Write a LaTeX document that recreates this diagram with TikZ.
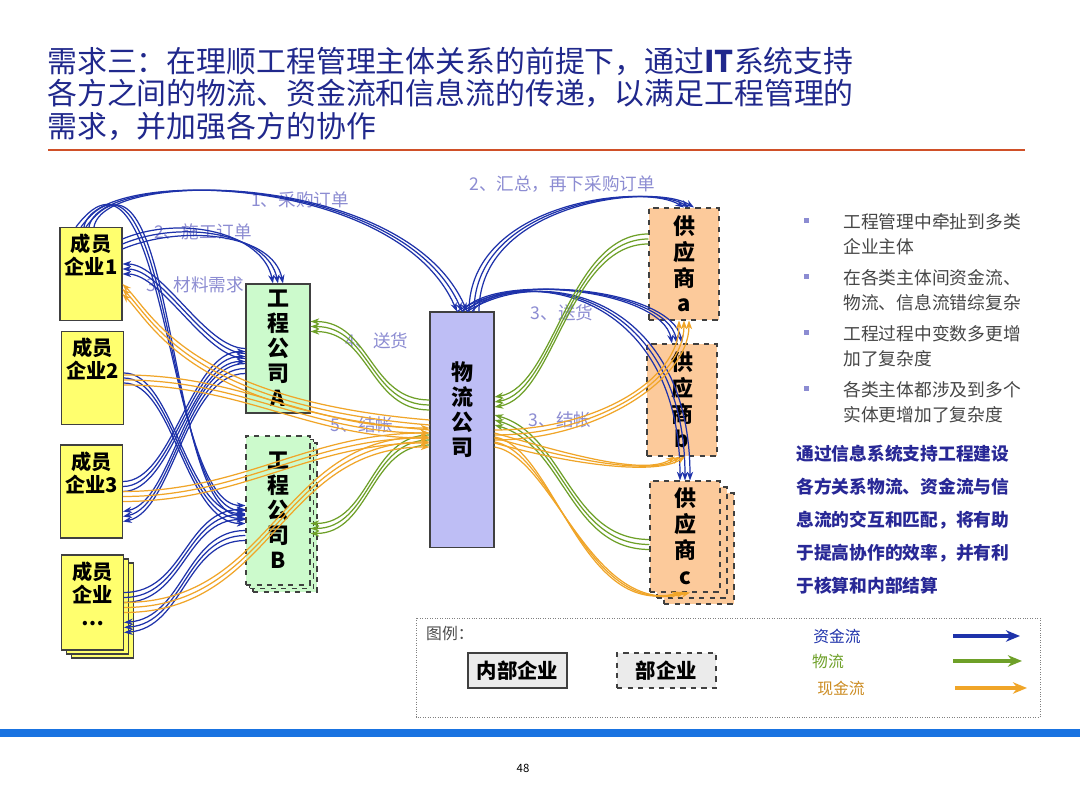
\documentclass[tikz,border=0pt]{standalone}
\usepackage{fontspec}
\setmainfont{Noto Sans CJK SC}
\usetikzlibrary{arrows.meta,shadows,positioning,calc}

\definecolor{titleblue}{RGB}{32,40,140}
\definecolor{rulered}{RGB}{208,80,40}
\definecolor{barblue}{RGB}{25,115,225}
\definecolor{memyellow}{RGB}{255,255,110}
\definecolor{engreen}{RGB}{204,250,204}
\definecolor{loglav}{RGB}{190,190,245}
\definecolor{suppeach}{RGB}{252,202,155}
\definecolor{moneyblue}{RGB}{30,50,170}
\definecolor{goodsgreen}{RGB}{110,160,40}
\definecolor{cashorange}{RGB}{240,165,40}
\definecolor{flowlabel}{RGB}{140,140,210}
\definecolor{notegray}{RGB}{70,70,70}
\definecolor{noteblue}{RGB}{40,40,150}

\tikzset{box/.style={draw=black!75, line width=0.6pt, inner sep=1pt}}
\tikzset{member/.style={box, fill=memyellow, minimum width=1.24cm, minimum height=1.86cm}}
\tikzset{memtxt/.style={align=center, anchor=north, inner sep=4pt, font=\bfseries\fontsize{11.5}{13}\selectfont}}
\tikzset{engco/.style={box, fill=engreen, minimum width=1.28cm, align=center, font=\bfseries\fontsize{12.5}{14.2}\selectfont}}
\tikzset{logco/.style={box, fill=loglav, minimum width=1.28cm, minimum height=4.72cm, align=center, font=\bfseries\fontsize{12.5}{14.2}\selectfont}}
\tikzset{supp/.style={box, dashed, fill=suppeach, minimum width=1.4cm, minimum height=2.24cm, align=center, font=\bfseries\fontsize{12.5}{14.7}\selectfont}}
\tikzset{money/.style={->, draw=moneyblue, line width=0.7pt}}
\tikzset{goods/.style={->, draw=goodsgreen, line width=0.7pt}}
\tikzset{cash/.style={->, draw=cashorange, line width=0.7pt}}
\tikzset{flowtxt/.style={text=flowlabel, font=\fontsize{10}{12}\selectfont}}
\tikzset{keyarrow/.style={line width=2.2pt, -{Stealth[length=8pt,width=6.5pt]}}}

\begin{document}
\begin{tikzpicture}[x=0.02cm, y=-0.02cm, >={Stealth[length=5pt,width=3.6pt]}]
\useasboundingbox (0,0) rectangle (1080,810);
\fill[white] (0,0) rectangle (1080,810);

% title and rules
\node[anchor=north west, inner sep=0, align=left, text=titleblue, font=\fontsize{17}{18.4}\selectfont] (title) at (47,47)
  {需求三：在理顺工程管理主体关系的前提下，通过{\bfseries IT}系统支持\\各方之间的物流、资金流和信息流的传递，以满足工程管理的\\需求，并加强各方的协作};
\draw[rulered, line width=1.7pt] (48,150) -- (1025,150);
\fill[barblue] (0,729) rectangle (1080,737);
\node[font=\fontsize{6.5}{8}\selectfont] (pagenum) at (523,768) {48};

% member companies
\node[member, label={[memtxt]north:{成员\\企业1}}] (m1) at (91,274) {};
\node[member, label={[memtxt]north:{成员\\企业2}}] (m2) at (92.5,378) {};
\node[member, label={[memtxt]north:{成员\\企业3}}] (m3) at (91.5,491.5) {};
\node[member, minimum height=1.9cm, double copy shadow={shadow xshift=0.1cm, shadow yshift=-0.08cm},
  label={[memtxt]north:{成员\\企业\\…}}] (m4) at (92.5,602.5) {};

% engineering companies
\node[engco, minimum height=2.58cm] (gA) at (278,348.5) {工\\程\\公\\司\\A};
\node[engco, dashed, minimum height=2.98cm, double copy shadow={shadow xshift=0.07cm, shadow yshift=-0.07cm}] (gB) at (278,510.5) {工\\程\\公\\司\\B};

% logistics company
\node[logco] (wl) at (462,430) {物\\流\\公\\司\\[10pt]};

% suppliers
\node[supp] (sa) at (684,264) {供\\应\\商\\a};
\node[supp] (sb) at (682,400) {供\\应\\商\\b};
\node[supp, minimum height=2.22cm, double copy shadow={shadow xshift=0.14cm, shadow yshift=-0.12cm}] (sc) at (685,536.5) {供\\应\\商\\c};

% flow labels
\node[flowtxt] (l1) at (300,200) {1、采购订单};
\node[flowtxt] (l2) at (203,232) {2、施工订单};
\node[flowtxt] (l3) at (195,285) {3、材料需求};
\node[flowtxt] (l4) at (562,184) {2、汇总，再下采购订单};
\node[flowtxt] (l5) at (377,341) {4、送货};
\node[flowtxt] (l6) at (562,313) {3、送货};
\node[flowtxt] (l7) at (362,425) {5、结帐};
\node[flowtxt] (l8) at (560,420) {3、结帐};

% blue flows
\foreach \o in {-5,0,5} {
  \draw[money] ([shift={(-2+\o,0)}]m1.north) .. controls +(10,-60) and +(-60,-140) .. ([shift={(\o,0)}]wl.north);
  \draw[money] ([shift={(0,-30+\o)}]m1.east) .. controls +(60,-25) and +(-10,-50) .. ([shift={(\o,0)}]gA.north);
  \draw[money] ([shift={(0,5+\o)}]gA.west) .. controls +(-40,0) and +(40,0) .. ([shift={(0,-5+\o)}]m1.east);
  \draw[money] ([shift={(-10+\o,0)}]m1.north) .. controls +(90,-120) and +(-80,0) .. ([shift={(0,\o)}]gB.west);
  \draw[money] ([shift={(0,\o)}]m2.east) .. controls +(50,0) and +(-60,0) .. ([shift={(0,8+\o)}]gB.west);
  \draw[money] ([shift={(0,20+\o)}]gA.west) .. controls +(-60,0) and +(50,-10) .. ([shift={(0,25+\o)}]m3.east);
  \draw[money] ([shift={(0,-5+\o)}]m3.east) .. controls +(50,0) and +(-55,0) .. ([shift={(0,8+\o)}]gA.west);
  \draw[money] ([shift={(0,-5+\o)}]m4.east) .. controls +(60,0) and +(-60,0) .. ([shift={(0,4+\o)}]gB.west);
  \draw[money] ([shift={(0,25+\o)}]gB.west) .. controls +(-60,0) and +(60,-5) .. ([shift={(0,25+\o)}]m4.east);
  \draw[money] ([shift={(12+\o,0)}]wl.north) .. controls +(0,-110) and +(-40,-25) .. ([shift={(5+\o,0)}]sa.north);
  \draw[money] ([shift={(5+\o,0)}]wl.north) .. controls +(30,-40) and +(-10,-55) .. ([shift={(-5+\o,0)}]sb.north);
  \draw[money] ([shift={(\o,0)}]wl.north) .. controls +(80,-50) and +(0,-180) .. ([shift={(\o,0)}]sc.north);
}

% green flows
\foreach \o in {-5,0,5} {
  \draw[goods] ([shift={(0,-25+\o)}]sa.west) .. controls +(-80,0) and +(60,-10) .. ([shift={(0,-28+\o)}]wl.east);
  \draw[goods] ([shift={(0,8+\o)}]sc.west) .. controls +(-80,0) and +(70,20) .. ([shift={(0,-10+\o)}]wl.east);
  \draw[goods] ([shift={(0,-25+\o)}]wl.west) .. controls +(-60,0) and +(60,0) .. ([shift={(0,-22+\o)}]gA.east);
  \draw[goods] ([shift={(0,10+\o)}]wl.west) .. controls +(-60,0) and +(60,0) .. ([shift={(0,18+\o)}]gB.east);
}

% orange flows
\foreach \o in {-5,0,5} {
  \draw[cash] ([shift={(0,-5+\o)}]wl.west) .. controls +(-240,-20) and +(30,30) .. ([shift={(0,15+\o)}]m1.east);
  \draw[cash] ([shift={(0,2+\o)}]m2.east) .. controls +(120,0) and +(-120,0) .. ([shift={(0,3+\o)}]wl.west);
  \draw[cash] ([shift={(0,5+\o)}]m3.east) .. controls +(120,0) and +(-120,0) .. ([shift={(0,8+\o)}]wl.west);
  \draw[cash] ([shift={(0,5+\o)}]m4.east) .. controls +(150,0) and +(-150,0) .. ([shift={(0,12+\o)}]wl.west);
  \draw[cash] ([shift={(0,5+\o)}]wl.east) .. controls +(100,0) and +(0,60) .. ([shift={(\o,0)}]sa.south);
  \draw[cash] ([shift={(0,8+\o)}]wl.east) .. controls +(70,20) and +(-30,20) .. ([shift={(-2+\o,0)}]sb.south);
  \draw[cash] ([shift={(0,12+\o)}]wl.east) .. controls +(60,10) and +(-100,25) .. ([shift={(\o,0)}]sc.south);
}

% notes on the right
\foreach \txt [count=\i] in {{工程管理中牵扯到多类\\企业主体}, {在各类主体间资金流、\\物流、信息流错综复杂}, {工程过程中变数多更增\\加了复杂度}, {各类主体都涉及到多个\\实体更增加了复杂度}} {
  \fill[flowlabel] (806,221+56*\i-56) ++(-2.5,-2.5) rectangle ++(5,5);
  \node[anchor=north west, inner sep=0, align=left, text=notegray, font=\fontsize{10.1}{14.2}\selectfont] (note\i) at (843,213+56*\i-56) {\txt};
}
\node[anchor=north west, inner sep=0, align=left, text=noteblue, font=\bfseries\fontsize{10.1}{18.7}\selectfont] (summary) at (796,445)
  {通过信息系统支持工程建设\\各方关系物流、资金流与信\\息流的交互和匹配，将有助\\于提高协作的效率，并有利\\于核算和内部结算};

% legend
\draw[black!50, densely dotted] (416,618) rectangle (1040,717);
\node[anchor=west, text=black!70, font=\fontsize{9}{11}\selectfont] (legtitle) at (420,634) {图例：};
\node[box, fill=black!8, minimum width=1.98cm, minimum height=0.7cm, font=\bfseries\fontsize{11.6}{13}\selectfont] (keyin) at (517.5,670.5) {内部企业};
\node[box, dashed, fill=black!8, minimum width=1.98cm, minimum height=0.7cm, font=\bfseries\fontsize{11.6}{13}\selectfont] (keyout) at (666.5,670.5) {部企业};
\node[text=moneyblue, font=\fontsize{9}{11}\selectfont] (keymoney) at (837,636) {资金流};
\node[text=goodsgreen, font=\fontsize{9}{11}\selectfont] (keygoods) at (828,661) {物流};
\node[text=cashorange!85!black, font=\fontsize{9}{11}\selectfont] (keycash) at (841,688) {现金流};
\coordinate (km1) at (953,636);
\coordinate (km2) at (1020,636);
\coordinate (kg1) at (953,661);
\coordinate (kg2) at (1022,661);
\coordinate (kc1) at (955,688);
\coordinate (kc2) at (1027,688);
\draw[money, keyarrow] (km1) -- (km2);
\draw[goods, keyarrow] (kg1) -- (kg2);
\draw[cash, keyarrow] (kc1) -- (kc2);
\end{tikzpicture}
\end{document}
